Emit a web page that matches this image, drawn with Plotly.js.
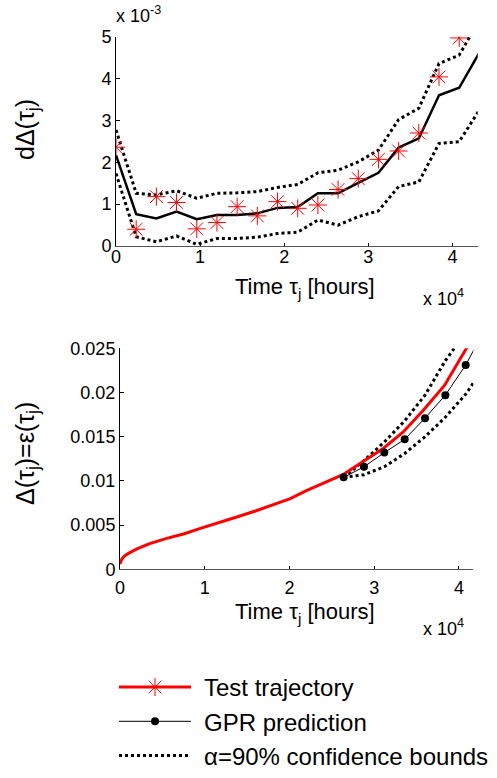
<!DOCTYPE html>
<html>
<head>
<meta charset="utf-8">
<script src="https://cdn.plot.ly/plotly-3.0.1.min.js"></script>
<style>html,body{margin:0;padding:0;background:#fff;}#chart{width:497px;height:778px;}</style>
</head>
<body>
<div id="chart"></div>
<script>
// ---------- Top panel: increments dΔ(τj) ----------
var topX = [0, 2400, 4800, 7200, 9600, 12000, 14400, 16800, 19200, 21600, 24000, 26400, 28800, 31200, 33600, 36000, 38400, 40800];
var topTest = [0.00236, 0.00040, 0.00118, 0.00104, 0.00041, 0.00056, 0.00094, 0.00072, 0.00106, 0.00090, 0.00098, 0.00135, 0.00161, 0.00207, 0.00227, 0.00270, 0.00404, 0.00497];
var topPredX = [0, 2400, 4800, 7200, 9600, 12000, 14400, 16800, 19200, 21600, 24000, 26400, 28800, 31200, 33600, 36000, 38400, 40800, 43200];
var topPred = [0.00217, 0.00076, 0.00066, 0.00082, 0.00064, 0.00074, 0.00074, 0.00078, 0.00091, 0.00093, 0.00126, 0.00126, 0.00151, 0.00175, 0.00235, 0.00257, 0.00360, 0.00378, 0.00462];
var topUpper = [0.00277, 0.00126, 0.00122, 0.00132, 0.00114, 0.00126, 0.00127, 0.00130, 0.00140, 0.00147, 0.00175, 0.00181, 0.00201, 0.00229, 0.00302, 0.00329, 0.00436, 0.00456, 0.00540];
var topLower = [0.00173, 0.00022, 0.00010, 0.00024, 0.00004, 0.00018, 0.00018, 0.00021, 0.00030, 0.00033, 0.00062, 0.00050, 0.00070, 0.00084, 0.00142, 0.00153, 0.00245, 0.00249, 0.00325];

// ---------- Bottom panel: cumulative Δ(τj)=ε(τj) ----------
var botTestX = [0, 200, 500, 1000, 2000, 3500, 5500, 7500, 9400, 11500, 13400, 16000, 18100, 20100, 22000, 24000, 26300, 28700, 31100, 33400, 35800, 38300, 40500, 42000];
var botTest = [0.0006, 0.0011, 0.0015, 0.0018, 0.0023, 0.0029, 0.0035, 0.0040, 0.0046, 0.0052, 0.0058, 0.0066, 0.0073, 0.0080, 0.0089, 0.0097, 0.0107, 0.0122, 0.0137, 0.0155, 0.0180, 0.0208, 0.0243, 0.0268];
var botPredX = [26400, 28800, 31200, 33600, 36000, 38400, 40800, 43200];
var botPred = [0.0104, 0.0116, 0.0132, 0.0147, 0.0171, 0.0197, 0.0231, 0.0274];
var botUpper = [0.0104, 0.0123, 0.0144, 0.0168, 0.0197, 0.0236, 0.0268, 0.0310];
var botLower = [0.0104, 0.0107, 0.0116, 0.0131, 0.0150, 0.0172, 0.0198, 0.0232];

// ---------- Tick labels ----------
var xTickVals = [0, 10000, 20000, 30000, 40000];
var xTickText = ['0', '1', '2', '3', '4'];
var topYTickVals = [0, 0.001, 0.002, 0.003, 0.004, 0.005];
var topYTickText = ['0', '1', '2', '3', '4', '5'];
var botYTickVals = [0, 0.005, 0.01, 0.015, 0.02, 0.025];
var botYTickText = ['0', '0.005', '0.01', '0.015', '0.02', '0.025'];

var legendNames = ['Test trajectory', 'GPR prediction', '\u03b1=90% confidence bounds'];

var FONT = 'Liberation Sans, Arial, sans-serif';
var W = 497, H = 778;
function px(x) { return x / W; }
function py(y) { return (H - y) / H; }

var dotLine = {color: '#000', width: 3, dash: 'dot'};

var traces = [
  // top
  {x: topPredX, y: topUpper, xaxis: 'x', yaxis: 'y', mode: 'lines', line: dotLine, showlegend: false},
  {x: topPredX, y: topLower, xaxis: 'x', yaxis: 'y', mode: 'lines', line: dotLine, showlegend: false},
  {x: topPredX, y: topPred, xaxis: 'x', yaxis: 'y', mode: 'lines', line: {color: '#000', width: 2.5}, showlegend: false},
  {x: topX, y: topTest, xaxis: 'x', yaxis: 'y', mode: 'markers',
   marker: {symbol: 'asterisk-open', size: 15, color: '#ff0000', line: {color: '#ff0000', width: 1}}, showlegend: false},
  // bottom
  {x: botPredX, y: botUpper, xaxis: 'x2', yaxis: 'y2', mode: 'lines', line: dotLine, showlegend: false},
  {x: botPredX, y: botLower, xaxis: 'x2', yaxis: 'y2', mode: 'lines', line: dotLine, showlegend: false},
  {x: botTestX, y: botTest, xaxis: 'x2', yaxis: 'y2', mode: 'lines', line: {color: '#ff0000', width: 3}, showlegend: false},
  {x: botPredX, y: botPred, xaxis: 'x2', yaxis: 'y2', mode: 'lines+markers', line: {color: '#000', width: 1},
   marker: {symbol: 'circle', size: 8, color: '#000'}, showlegend: false},
  // legend entries
  {x: [null], y: [null], xaxis: 'x2', yaxis: 'y2', name: legendNames[0], legendgroup: 'a', mode: 'lines+markers',
   line: {color: '#ff0000', width: 3}, marker: {symbol: 'asterisk-open', size: 15, color: '#ff0000', line: {color: '#ff0000', width: 1}}},
  {x: [null], y: [null], xaxis: 'x2', yaxis: 'y2', name: legendNames[1], legendgroup: 'b', mode: 'lines+markers',
   line: {color: '#000', width: 1}, marker: {symbol: 'circle', size: 8, color: '#000'}},
  {x: [null], y: [null], xaxis: 'x2', yaxis: 'y2', name: legendNames[2], legendgroup: 'c', mode: 'lines',
   line: dotLine}
];

var axX = {
  tickvals: xTickVals, ticktext: xTickText, ticks: 'inside', ticklen: 3, tickcolor: '#000',
  showline: true, linecolor: '#555', linewidth: 1, showgrid: false, zeroline: false,
  tickfont: {family: FONT, size: 18, color: '#000'}, fixedrange: true
};
var axY = {
  ticks: 'inside', ticklen: 4, tickcolor: '#000',
  showline: true, linecolor: '#000', linewidth: 1, showgrid: false, zeroline: false,
  tickfont: {family: FONT, size: 18, color: '#000'}, fixedrange: true
};

var layout = {
  width: W, height: H,
  margin: {l: 0, r: 0, t: 0, b: 0, autoexpand: false},
  paper_bgcolor: '#fff', plot_bgcolor: 'rgba(0,0,0,0)',
  font: {family: FONT, color: '#000'},
  xaxis: Object.assign({}, axX, {domain: [px(116), px(477.7)], range: [0, 43000], anchor: 'y', ticklabelstandoff: -6}),
  yaxis: Object.assign({}, axY, {domain: [py(246), py(36.7)], range: [0, 0.005], tickvals: topYTickVals, ticktext: topYTickText, anchor: 'x'}),
  xaxis2: Object.assign({}, axX, {domain: [px(120), px(473.3)], range: [0, 41700], anchor: 'y2', ticklabelstandoff: 2}),
  yaxis2: Object.assign({}, axY, {domain: [py(569.3), py(348.3)], range: [0, 0.025], tickvals: botYTickVals, ticktext: botYTickText, anchor: 'x2'}),
  showlegend: true,
  legend: {x: px(114), y: py(665), xanchor: 'left', yanchor: 'top', bgcolor: 'rgba(0,0,0,0)',
           font: {family: FONT, size: 24, color: '#000'}, itemwidth: 80, tracegroupgap: 0, traceorder: 'grouped'},
  annotations: [
    {text: 'x 10<sup>-3</sup>', xref: 'paper', yref: 'paper', x: px(114), y: py(28), xanchor: 'left', yanchor: 'bottom', showarrow: false, font: {family: FONT, size: 18}},
    {text: 'Time \u03c4<sub>j</sub> [hours]', xref: 'paper', yref: 'paper', x: px(305), y: py(304), xanchor: 'center', yanchor: 'bottom', showarrow: false, font: {family: FONT, size: 22}},
    {text: 'x 10<sup>4</sup>', xref: 'paper', yref: 'paper', x: px(421), y: py(311), xanchor: 'left', yanchor: 'bottom', showarrow: false, font: {family: FONT, size: 18}},
    {text: 'd\u0394(\u03c4<sub>j</sub>)', xref: 'paper', yref: 'paper', x: px(27), y: py(130), xanchor: 'center', yanchor: 'middle', textangle: -90, showarrow: false, font: {family: FONT, size: 25}},
    {text: '\u0394(\u03c4<sub>j</sub>)=\u03b5(\u03c4<sub>j</sub>)', xref: 'paper', yref: 'paper', x: px(27), y: py(454), xanchor: 'center', yanchor: 'middle', textangle: -90, showarrow: false, font: {family: FONT, size: 25}},
    {text: 'Time \u03c4<sub>j</sub> [hours]', xref: 'paper', yref: 'paper', x: px(305), y: py(629), xanchor: 'center', yanchor: 'bottom', showarrow: false, font: {family: FONT, size: 22}},
    {text: 'x 10<sup>4</sup>', xref: 'paper', yref: 'paper', x: px(421), y: py(641), xanchor: 'left', yanchor: 'bottom', showarrow: false, font: {family: FONT, size: 18}}
  ]
};

Plotly.newPlot('chart', traces, layout, {staticPlot: true, displayModeBar: false}).then(function (gd) {
  // lengthen legend line samples to match the reference key style
  var items = gd.querySelectorAll('.legend .traces');
  items.forEach(function (it) {
    it.querySelectorAll('.legendlines path').forEach(function (p) { p.setAttribute('d', 'M5,0h72'); });
    it.querySelectorAll('.legendpoints path').forEach(function (p) { p.setAttribute('transform', 'translate(41,0)'); });
  });
});
</script>
</body>
</html>
